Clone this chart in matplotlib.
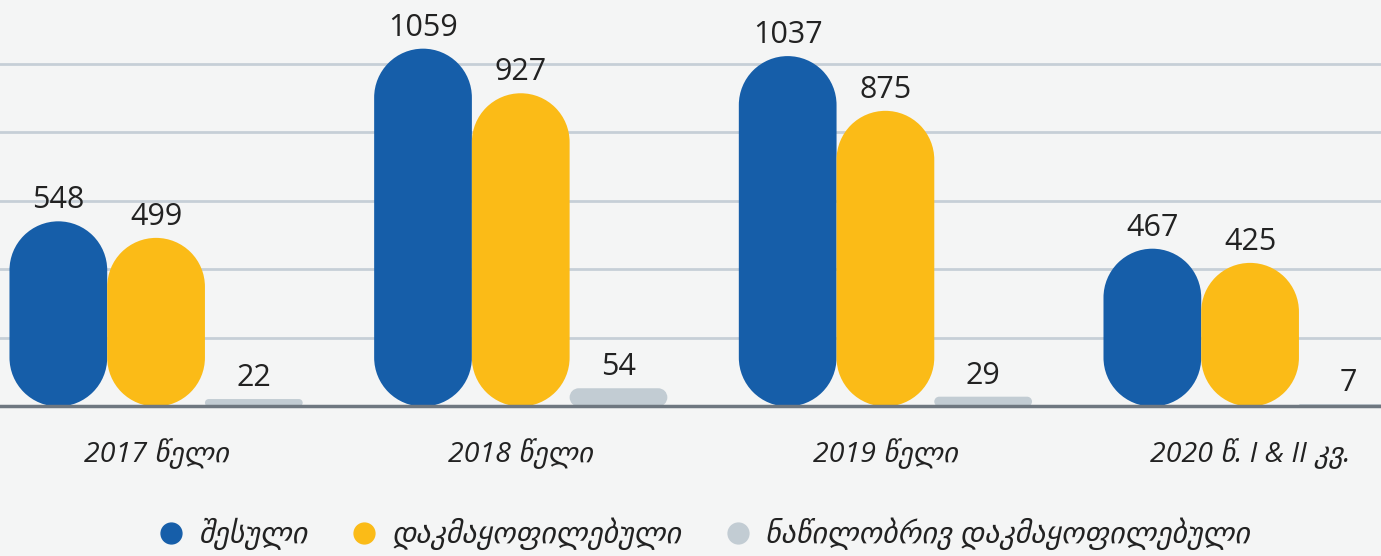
import matplotlib.pyplot as plt
import numpy as np
from matplotlib.lines import Line2D
from matplotlib.patches import PathPatch
from matplotlib.path import Path

categories = ["2017 წელი", "2018 წელი", "2019 წელი", "2020 წ. I & II კვ."]
series_names = ["შესული", "დაკმაყოფილებული", "ნაწილობრივ დაკმაყოფილებული"]
incoming = [548, 1059, 1037, 467]
satisfied = [499, 927, 875, 425]
partial = [22, 54, 29, 7]
series = [incoming, satisfied, partial]
colors = ["#165ea9", "#fbbb17", "#c2ccd3"]

FONTS = ["Open Sans", "DejaVu Sans"]
BG = "#f4f5f5"


def rounded_bar(ax, x0, y0, w, h, color):
    # rounded rect whose corners are circular in pixel space
    t = ax.transData
    ppx = t.transform((1, 0))[0] - t.transform((0, 0))[0]
    ppy = t.transform((0, 1))[1] - t.transform((0, 0))[1]
    r_px = min(w * ppx / 2, h * ppy / 2)
    rx, ry = r_px / ppx, r_px / ppy
    x1, y1 = x0 + w, y0 + h
    centers = [(x1 - rx, y1 - ry, 0, 90), (x0 + rx, y1 - ry, 90, 180),
               (x0 + rx, y0 + ry, 180, 270), (x1 - rx, y0 + ry, 270, 360)]
    verts, codes = [], []
    for cx, cy, a1, a2 in centers:
        arc = Path.arc(a1, a2)
        v = arc.vertices * [rx, ry] + [cx, cy]
        c = list(arc.codes)
        if codes:
            c[0] = Path.LINETO
        verts.extend(v.tolist())
        codes.extend(c)
    verts.append(verts[0])
    codes.append(Path.CLOSEPOLY)
    ax.add_patch(PathPatch(Path(verts, codes), facecolor=color, edgecolor="none", zorder=3))


fig = plt.figure(figsize=(13.81, 5.56), dpi=100, facecolor=BG)
ax = fig.add_axes([0, 0.2689, 1, 0.7311], facecolor=BG)
ax.set_xlim(-0.428, 3.359)
ax.set_ylim(0, 1203)

x = np.arange(len(categories))
w = 0.268
for i, (vals, col) in enumerate(zip(series, colors)):
    bars = ax.bar(x + (i - 1) * w, vals, w, color=col)
    for rect, v in zip(bars, vals):
        rx0, rw, rh = rect.get_x(), rect.get_width(), rect.get_height()
        rect.remove()
        rounded_bar(ax, rx0, 0, rw, rh, col)
        ax.annotate(str(v), (rx0 + rw / 2, rh), xytext=(0, 13), textcoords="offset pixels",
                    ha="center", va="baseline", fontsize=22, color="#222222",
                    family=FONTS, zorder=4)

ax.set_yticks([203, 406, 609, 812, 1015])
ax.yaxis.grid(True, color="#c6cfd7", lw=2)
ax.set_axisbelow(True)
ax.tick_params(axis="y", length=0, labelleft=False)
for s in ["top", "left", "right"]:
    ax.spines[s].set_visible(False)
ax.spines["bottom"].set_color("#6e7780")
ax.spines["bottom"].set_linewidth(2.5)
ax.spines["bottom"].set_zorder(5)

ax.set_xticks(x, categories)
ax.tick_params(axis="x", length=0, pad=23)
for lab in ax.get_xticklabels():
    lab.set_fontsize(20.5)
    lab.set_fontstyle("italic")
    lab.set_family(FONTS)
    lab.set_color("#222222")

handles = [Line2D([], [], marker="o", ls="none", markersize=15, color=c) for c in colors]
leg = fig.legend(handles, series_names, loc="center", bbox_to_anchor=(0.509, 0.04), ncol=3,
                 frameon=False, handlelength=1.0, handletextpad=0.4, columnspacing=1.4,
                 prop=dict(family=FONTS, style="italic", size=21.5))
for t in leg.get_texts():
    t.set_color("#222222")

fig.savefig("out.png", dpi=100, facecolor=BG)
